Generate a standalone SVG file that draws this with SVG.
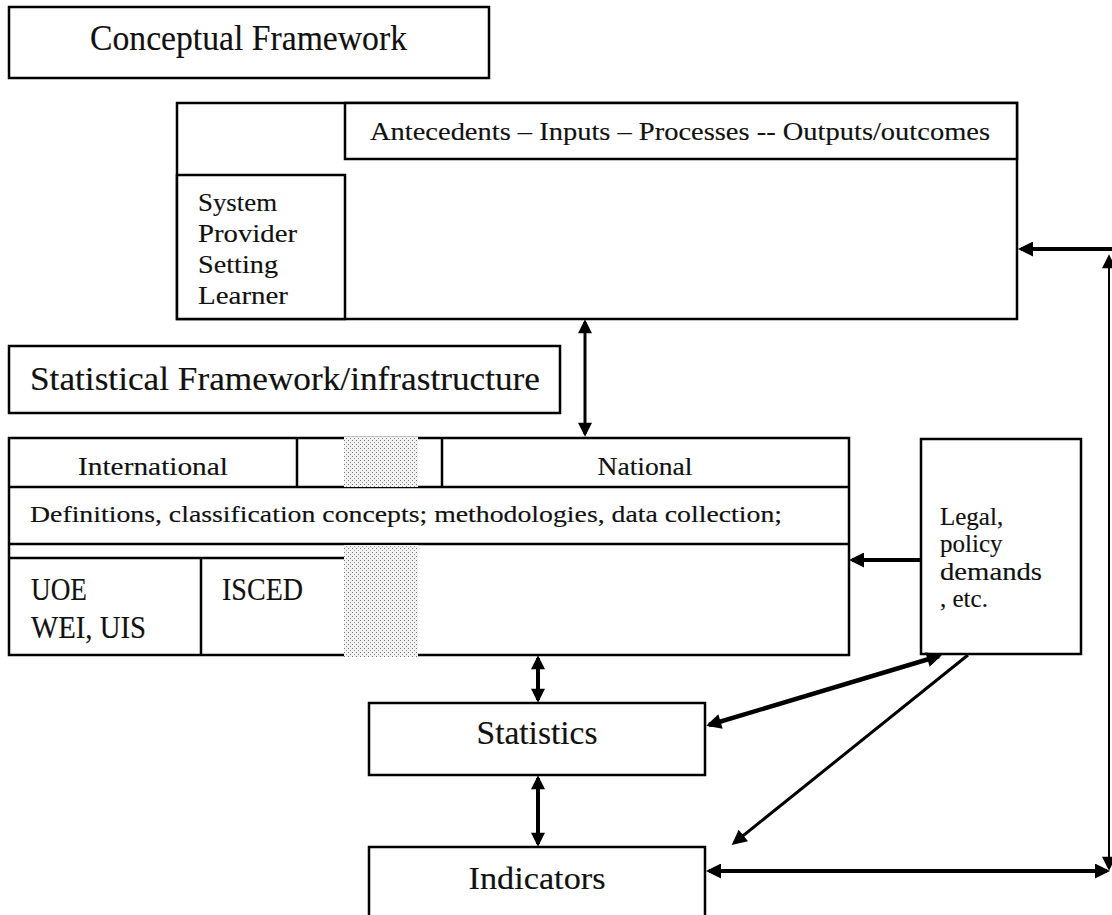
<svg xmlns="http://www.w3.org/2000/svg" width="1112" height="915" viewBox="0 0 1112 915">
<style>
.box{fill:#fff;stroke:#000;stroke-width:2.5}
.ln{stroke:#000;stroke-width:2.5;fill:none}
.t{font-family:"Liberation Serif","DejaVu Serif",serif;fill:#111;stroke:#111;stroke-width:0.15}
.c{stroke:#000;fill:none}
</style>
<defs>
<pattern id="dots" width="4" height="4" patternUnits="userSpaceOnUse">
<rect width="4" height="4" fill="#f2f2f2"/>
<rect x="0" y="0" width="1" height="1" fill="#777"/>
<rect x="2" y="2" width="1" height="1" fill="#999"/>
</pattern>
<marker id="ah" viewBox="0 0 10 10" refX="8" refY="5" markerUnits="userSpaceOnUse" markerWidth="19" markerHeight="15" orient="auto-start-reverse">
<path d="M0,0 L10,5 L0,10 z" fill="#000"/>
</marker>
<marker id="ahs" viewBox="0 0 10 10" refX="8" refY="5" markerUnits="userSpaceOnUse" markerWidth="17" markerHeight="14" orient="auto-start-reverse">
<path d="M0,0 L10,5 L0,10 z" fill="#000"/>
</marker>
</defs>
<rect width="1112" height="915" fill="#fff"/>

<g id="conceptual">
<rect class="box" x="9" y="7" width="480" height="71"/>
<text class="t" x="90" y="50" font-size="35" textLength="317" lengthAdjust="spacingAndGlyphs">Conceptual Framework</text>
</g>

<g id="top-frame">
<rect class="box" x="177" y="103" width="840" height="216"/>
<rect class="box" x="345" y="103" width="672" height="56"/>
<rect class="box" x="177" y="175" width="168" height="144"/>
<text class="t" x="370" y="140" font-size="26" textLength="620" lengthAdjust="spacingAndGlyphs">Antecedents – Inputs – Processes -- Outputs/outcomes</text>
<text class="t" x="198" y="211" font-size="25" textLength="79" lengthAdjust="spacingAndGlyphs">System</text>
<text class="t" x="198" y="242" font-size="25" textLength="99" lengthAdjust="spacingAndGlyphs">Provider</text>
<text class="t" x="198" y="273" font-size="25" textLength="80" lengthAdjust="spacingAndGlyphs">Setting</text>
<text class="t" x="198" y="304" font-size="25" textLength="90" lengthAdjust="spacingAndGlyphs">Learner</text>
</g>

<g id="statistical-framework">
<rect class="box" x="9" y="346" width="551" height="67"/>
<text class="t" x="30" y="390" font-size="33" textLength="510" lengthAdjust="spacingAndGlyphs">Statistical Framework/infrastructure</text>
</g>

<g id="infrastructure">
<rect class="box" x="9" y="438" width="840" height="217"/>
<line class="ln" x1="9" y1="487" x2="849" y2="487"/>
<line class="ln" x1="9" y1="544" x2="849" y2="544"/>
<line class="ln" x1="9" y1="558" x2="345" y2="558"/>
<line class="ln" x1="297" y1="438" x2="297" y2="487"/>
<line class="ln" x1="442" y1="438" x2="442" y2="487"/>
<line class="ln" x1="201" y1="558" x2="201" y2="655"/>
<rect x="344" y="437" width="74" height="50" fill="url(#dots)"/>
<rect x="344" y="545" width="74" height="112" fill="url(#dots)"/>
<text class="t" x="153" y="475" font-size="25" text-anchor="middle" textLength="150" lengthAdjust="spacingAndGlyphs">International</text>
<text class="t" x="645" y="475" font-size="25" text-anchor="middle" textLength="95" lengthAdjust="spacingAndGlyphs">National</text>
<text class="t" x="30" y="522" font-size="24" textLength="752" lengthAdjust="spacingAndGlyphs">Definitions, classification concepts; methodologies, data collection;</text>
<text class="t" x="31" y="600" font-size="32" textLength="56" lengthAdjust="spacingAndGlyphs">UOE</text>
<text class="t" x="31" y="638" font-size="32" textLength="115" lengthAdjust="spacingAndGlyphs">WEI, UIS</text>
<text class="t" x="222" y="600" font-size="32" textLength="81" lengthAdjust="spacingAndGlyphs">ISCED</text>
</g>

<g id="legal">
<rect class="box" x="921" y="439" width="160" height="215"/>
<text class="t" x="940" y="525" font-size="25">Legal,</text>
<text class="t" x="940" y="552" font-size="25">policy</text>
<text class="t" x="940" y="580" font-size="25" textLength="102" lengthAdjust="spacingAndGlyphs">demands</text>
<text class="t" x="940" y="607" font-size="25">, etc.</text>
</g>

<g id="statistics">
<rect class="box" x="369" y="703" width="336" height="72"/>
<text class="t" x="537" y="744" font-size="33" text-anchor="middle" textLength="121" lengthAdjust="spacingAndGlyphs">Statistics</text>
</g>

<g id="indicators">
<path class="ln" d="M369,917 L369,847 L705,847 L705,917"/>
<text class="t" x="537" y="889" font-size="32" text-anchor="middle" textLength="137" lengthAdjust="spacingAndGlyphs">Indicators</text>
</g>

<g id="connectors">
<line class="c" stroke-width="3" x1="585" y1="322" x2="585" y2="434" marker-start="url(#ahs)" marker-end="url(#ahs)"/>
<line class="c" stroke-width="4" x1="538" y1="658" x2="538" y2="700" marker-start="url(#ahs)" marker-end="url(#ahs)"/>
<line class="c" stroke-width="4" x1="538" y1="778" x2="538" y2="844" marker-start="url(#ahs)" marker-end="url(#ahs)"/>
<line class="c" stroke-width="4" x1="921" y1="560" x2="852" y2="560" marker-end="url(#ah)"/>
<line class="c" stroke-width="4.5" x1="939" y1="656" x2="709" y2="725" marker-start="url(#ah)" marker-end="url(#ah)"/>
<line class="c" stroke-width="3" x1="968" y1="655" x2="734" y2="843" marker-end="url(#ah)"/>
<line class="c" stroke-width="4" x1="709" y1="871" x2="1107" y2="871" marker-start="url(#ah)" marker-end="url(#ah)"/>
<line class="c" stroke-width="4" x1="1112" y1="249" x2="1021" y2="249" marker-end="url(#ah)"/>
<line class="c" stroke-width="2" x1="1109" y1="257" x2="1109" y2="868" marker-start="url(#ahs)" marker-end="url(#ahs)"/>
</g>
</svg>
